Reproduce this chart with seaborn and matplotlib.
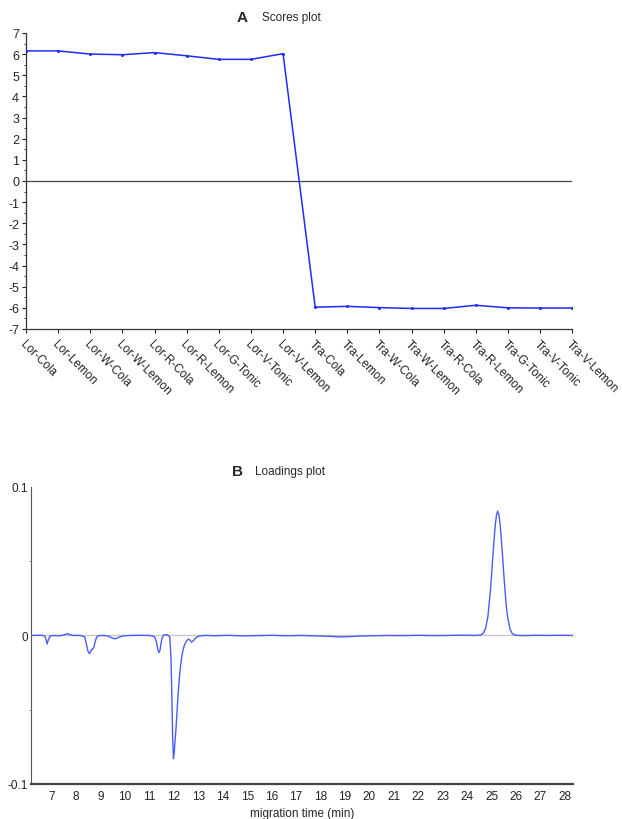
import matplotlib
matplotlib.use("Agg")
import matplotlib.pyplot as plt
import seaborn as sns
import pandas as pd
from matplotlib.ticker import MultipleLocator

# Scores plot data
samples = ["Lor-Cola", "Lor-Lemon", "Lor-W-Cola", "Lor-W-Lemon", "Lor-R-Cola", "Lor-R-Lemon",
           "Lor-G-Tonic", "Lor-V-Tonic", "Lor-V-Lemon", "Tra-Cola", "Tra-Lemon", "Tra-W-Cola",
           "Tra-W-Lemon", "Tra-R-Cola", "Tra-R-Lemon", "Tra-G-Tonic", "Tra-V-Tonic", "Tra-V-Lemon"]
scores = [6.15, 6.15, 6.00, 5.97, 6.07, 5.92, 5.75, 5.75, 6.02,
          -5.97, -5.93, -5.99, -6.03, -6.03, -5.88, -6.00, -6.01, -6.01]

# Loadings plot data
mig_time = [6.15, 6.4, 6.6, 6.72, 6.77, 6.81, 6.85, 6.92, 7.05, 7.3, 7.5, 7.6, 7.65, 7.72, 7.85, 8.0,
            8.2, 8.35, 8.42, 8.48, 8.54, 8.58, 8.63, 8.68, 8.73, 8.78, 8.84, 8.92, 9.1, 9.3,
            9.45, 9.55, 9.65, 9.75, 9.9, 10.2, 10.6, 11.0, 11.2, 11.28, 11.34, 11.39, 11.43,
            11.47, 11.52, 11.58, 11.66, 11.75, 11.83, 11.88, 11.92, 11.95, 11.98, 12.01, 12.04,
            12.08, 12.12, 12.17, 12.22, 12.28, 12.35, 12.42, 12.5, 12.58, 12.65, 12.72, 12.8,
            12.9, 13.05, 13.3, 13.7, 14.2, 14.8, 15.4, 16.0, 16.6, 17.2, 17.8, 18.4, 18.8,
            19.2, 19.6, 20.2, 20.8, 21.4, 22.0, 22.6, 23.2, 23.8, 24.3, 24.55, 24.65, 24.75,
            24.85, 24.95, 25.0, 25.05, 25.1, 25.15, 25.2, 25.25, 25.3, 25.35, 25.4, 25.45,
            25.5, 25.55, 25.6, 25.65, 25.75, 25.85, 26.0, 26.3, 26.8, 27.3, 27.8, 28.33]
loadings = [0.0000, 0.0001, 0.0001, -0.0004, -0.0030, -0.0058, -0.0035, -0.0006, 0.0000, -0.0002,
            0.0003, 0.0010, 0.0012, 0.0006, 0.0000, 0.0001,
            -0.0001, -0.0010, -0.0060, -0.0105, -0.0122, -0.0115, -0.0095, -0.0092, -0.0075,
            -0.0040, -0.0010, -0.0001, 0.0000, -0.0004,
            -0.0015, -0.0022, -0.0020, -0.0012, -0.0003, 0.0000, 0.0001, 0.0000, -0.0008,
            -0.0040, -0.0095, -0.0115, -0.0100, -0.0055, -0.0015, 0.0002, 0.0006, 0.0003,
            -0.0010, -0.0150, -0.0450, -0.0700, -0.0830, -0.0790, -0.0720,
            -0.0640, -0.0530, -0.0400, -0.0290, -0.0190, -0.0115, -0.0070, -0.0040, -0.0025,
            -0.0030, -0.0045, -0.0035,
            -0.0015, -0.0003, 0.0000, -0.0002, 0.0001, -0.0003, -0.0001, 0.0001, -0.0002,
            0.0000, -0.0003, -0.0006, -0.0010,
            -0.0008, -0.0004, -0.0002, 0.0000, -0.0001, 0.0001, -0.0001, 0.0000, 0.0002,
            0.0000, 0.0003, 0.0012, 0.0045,
            0.0130, 0.0300, 0.0410, 0.0530, 0.0645, 0.0744, 0.0813, 0.0837, 0.0813, 0.0744,
            0.0645, 0.0530,
            0.0410, 0.0300, 0.0200, 0.0130, 0.0044, 0.0011, 0.0001, -0.0001, 0.0001, 0.0000,
            0.0001, 0.0000]

sns.set_theme(style="ticks")
plt.rcParams['font.family'] = ['Liberation Sans', 'DejaVu Sans']
plt.rcParams['axes.unicode_minus'] = False

fig = plt.figure(figsize=(6.22, 8.2), dpi=100)

# ---- A: scores plot
ax1 = fig.add_axes([0.0418, 0.5976, 0.8782, 0.361])
df_scores = pd.DataFrame({"sample": samples, "score": scores})
ax1.axhline(0, color="#444444", lw=0.9, zorder=1)
sns.lineplot(data=df_scores, x="sample", y="score", sort=False, ax=ax1,
             color="#1f2bff", lw=1.1, marker="o", markersize=2.2,
             markeredgewidth=0, zorder=3)
ax1.set_xlim(0, len(samples) - 1)
ax1.set_ylim(-7, 7)
ax1.yaxis.set_major_locator(MultipleLocator(1))
ax1.yaxis.set_minor_locator(MultipleLocator(0.5))
ax1.set_xlabel("")
ax1.set_ylabel("")
ax1.set_xticks(range(len(samples)))
ax1.set_xticklabels(samples, rotation=-45, ha="left", va="top",
                    rotation_mode="anchor", fontsize=8.5)
ax1.tick_params(axis="y", labelsize=9, length=3, width=0.8, pad=2, colors="#222222")
ax1.tick_params(axis="y", which="minor", length=1.5, width=0.6)
ax1.tick_params(axis="x", length=3, width=0.8, pad=3, colors="#222222")
for s in ["top", "right"]:
    ax1.spines[s].set_visible(False)
for s in ["left", "bottom"]:
    ax1.spines[s].set_color("#333333")
    ax1.spines[s].set_linewidth(0.9)

fig.text(0.381, 0.978, "A", fontsize=11, fontweight="bold", ha="left", va="center")
fig.text(0.421, 0.978, "Scores plot", fontsize=8.5, ha="left", va="center")

# ---- B: loadings plot
ax2 = fig.add_axes([0.0498, 0.0427, 0.8714, 0.3623])
df_load = pd.DataFrame({"time": mig_time, "loading": loadings})
ax2.axhline(0, color="#c8c8c8", lw=1.0, zorder=1)
sns.lineplot(data=df_load, x="time", y="loading", sort=False, ax=ax2,
             color="#4a5cf5", lw=1.0, zorder=3)
ax2.set_xlim(6.15, 28.33)
ax2.set_ylim(-0.1, 0.1)
ax2.set_yticks([-0.1, 0, 0.1])
ax2.set_yticklabels(["-0.1", "0", "0.1"])
ax2.yaxis.set_minor_locator(MultipleLocator(0.05))
ax2.set_xticks(range(7, 29))
ax2.set_xlabel("migration time (min)", fontsize=8.5, labelpad=4)
ax2.set_ylabel("")
ax2.tick_params(axis="y", labelsize=8.5, length=0, pad=2, colors="#222222")
ax2.tick_params(axis="y", which="minor", length=1.5, width=0.6, color="#888888")
ax2.tick_params(axis="x", labelsize=8.5, length=0, pad=4, colors="#222222")
for s in ["top", "right"]:
    ax2.spines[s].set_visible(False)
ax2.spines["left"].set_color("#555555")
ax2.spines["left"].set_linewidth(0.8)
ax2.spines["bottom"].set_color("#444444")
ax2.spines["bottom"].set_linewidth(1.6)

fig.text(0.373, 0.4244, "B", fontsize=11, fontweight="bold", ha="left", va="center")
fig.text(0.41, 0.4244, "Loadings plot", fontsize=8.5, ha="left", va="center")

fig.savefig("out.png", dpi=100)
